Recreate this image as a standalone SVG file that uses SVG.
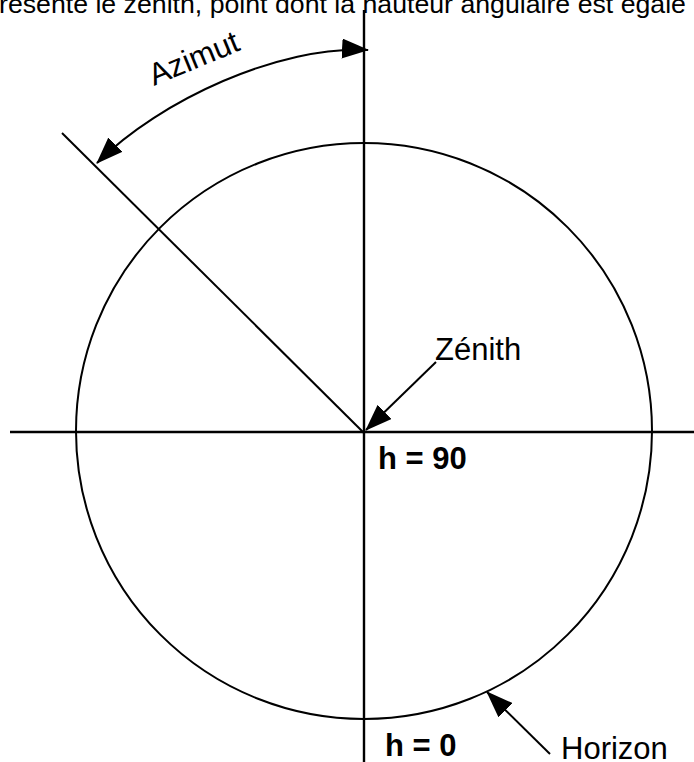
<svg xmlns="http://www.w3.org/2000/svg" width="694" height="762" viewBox="0 0 694 762">
<style>
.ln{fill:none;stroke:#000;stroke-width:2}
.ax{fill:none;stroke:#000;stroke-width:2.4}
.t{font-family:"Liberation Sans",Arial,sans-serif;font-size:31px;fill:#000}
.b{font-weight:bold}
</style>
<defs>
<marker id="ah" markerUnits="userSpaceOnUse" markerWidth="28" markerHeight="20" refX="26" refY="10" orient="auto-start-reverse">
<path d="M0,0 L27,10 L0,20 z" fill="#000"/>
</marker>
</defs>
<rect width="694" height="762" fill="#fff"/>
<text class="t" x="-1" y="13" style="font-size:26.7px">résente le zénith, point dont la hauteur angulaire est égale</text>
<g id="horizon-circle">
<circle class="ln" cx="364" cy="431" r="288"/>
</g>
<g id="axes">
<line class="ax" x1="10" y1="432" x2="694" y2="432"/>
<line class="ax" x1="364" y1="10" x2="364" y2="762"/>
<line class="ln" x1="62" y1="133" x2="364" y2="433"/>
</g>
<g id="connectors">
<path class="ln" d="M97,163 C160,100 280,45 368,50" marker-start="url(#ah)" marker-end="url(#ah)"/>
<line class="ln" x1="436" y1="362" x2="366" y2="430" marker-end="url(#ah)"/>
<line class="ln" x1="550" y1="754" x2="487" y2="692" marker-end="url(#ah)"/>
</g>
<g id="azimut">
<text class="t" transform="translate(154,86) rotate(-22.5)">Azimut</text>
</g>
<g id="zenith">
<text class="t" x="435" y="360">Zénith</text>
<text class="t b" x="378" y="469">h = 90</text>
</g>
<g id="horizon">
<text class="t b" x="385" y="756">h = 0</text>
<text class="t" x="561" y="759">Horizon</text>
</g>
</svg>
